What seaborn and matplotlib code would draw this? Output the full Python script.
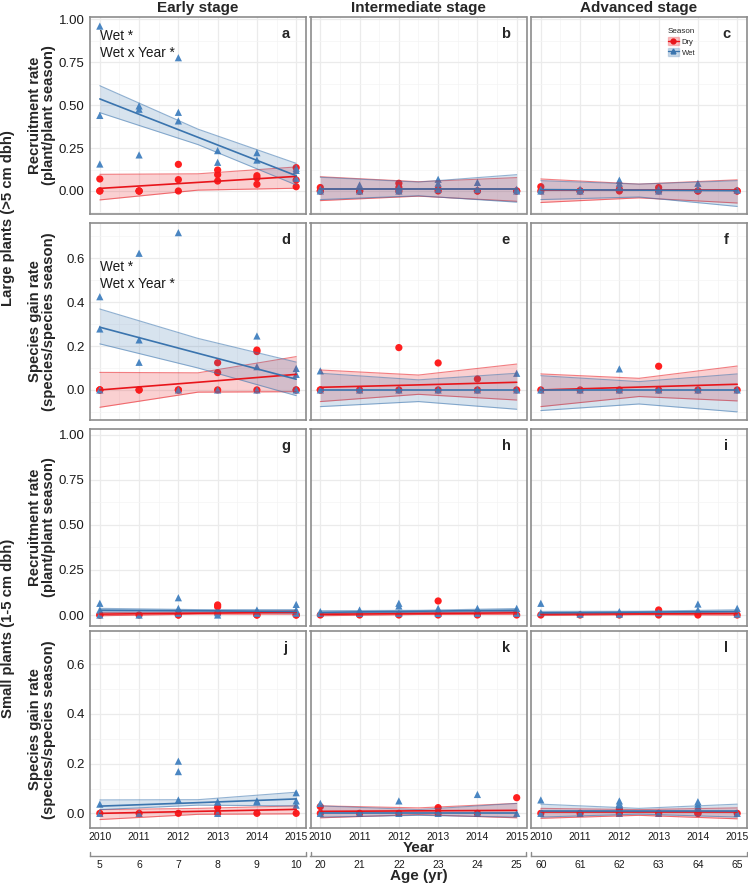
import pandas as pd
import matplotlib
matplotlib.use("Agg")
import matplotlib.pyplot as plt
import seaborn as sns
from matplotlib.lines import Line2D
from matplotlib.patches import Patch

sns.set_theme(style="whitegrid")
plt.rcParams['font.family'] = ['Liberation Sans', 'DejaVu Sans']

# ---------------- data ----------------
years = [2010, 2011, 2012, 2013, 2014, 2015]
fit_years = [2010, 2012.5, 2015]
stages = ["Early stage", "Intermediate stage", "Advanced stage"]
ages = [[5, 6, 7, 8, 9, 10], [20, 21, 22, 23, 24, 25], [60, 61, 62, 63, 64, 65]]
row_labels = ["Recruitment rate\n(plant/plant season)",
              "Species gain rate\n(species/species season)",
              "Recruitment rate\n(plant/plant season)",
              "Species gain rate\n(species/species season)"]
group_labels = ["Large plants (>5 cm dbh)", "Small plants (1-5 cm dbh)"]
letters = list("abcdefghijkl")

# observed rates, one list per year (2010..2015)
a_dry = [[0.07, 0, 0], [0, 0, 0], [0.155, 0.066, 0], [0.122, 0.095, 0.058], [0.089, 0.076, 0.039], [0.136, 0.064, 0.025]]
a_wet = [[0.96, 0.44, 0.157], [0.495, 0.476, 0.21], [0.776, 0.458, 0.408], [0.235, 0.167], [0.223, 0.18], [0.132, 0.12, 0.074]]
b_dry = [[0.02, 0, 0], [0, 0, 0], [0.045, 0.02, 0], [0.01, 0], [0, 0], [0, 0]]
b_wet = [[0.01, 0], [0.035, 0], [0.02, 0.01, 0], [0.068, 0.045, 0.01], [0.05, 0.01], [0.01, 0]]
c_dry = [[0.025, 0], [0, 0], [0.01, 0], [0.02, 0], [0, 0], [0, 0]]
c_wet = [[0.01, 0], [0.01, 0], [0.063, 0.045, 0.02], [0.01, 0], [0.045, 0.01], [0.005]]
d_dry = [[0, 0, 0], [0, 0], [0, 0], [0.124, 0.079, 0], [0.182, 0.175, 0], [0, 0]]
d_wet = [[0.425, 0.278, 0], [0.623, 0.228, 0.126], [0.717, 0], [0], [0.246, 0.106, 0], [0.098, 0.071, 0]]
e_dry = [[0, 0], [0], [0.193, 0], [0.123, 0], [0.05, 0], [0]]
e_wet = [[0.087, 0], [0], [0], [0], [0], [0.076, 0]]
f_dry = [[0], [0], [0], [0.108, 0], [0], [0]]
f_wet = [[0], [0], [0.096, 0], [0], [0], [0]]
g_dry = [[0, 0], [0], [0, 0], [0.056, 0.046, 0.01], [0, 0], [0, 0]]
g_wet = [[0.065, 0.028, 0.0], [0], [0.096, 0.037, 0.01], [0.013, 0.0], [0.028, 0.01], [0.059, 0.028, 0.01]]
h_dry = [[0], [0], [0], [0.078, 0], [0], [0]]
h_wet = [[0.019, 0.01], [0.028, 0.01], [0.065, 0.05, 0.01], [0.037, 0.009], [0.037, 0.01], [0.037, 0.01]]
i_dry = [[0], [0], [0], [0.028, 0], [0], [0]]
i_wet = [[0.065, 0.013], [0.005], [0.019, 0.005], [0.013], [0.061, 0.028], [0.037, 0.005]]
j_dry = [[0], [0], [0], [0.024, 0], [0], [0]]
j_wet = [[0.037, 0], [0], [0.21, 0.168, 0.054], [0.047, 0], [0.05, 0.047], [0.083, 0.05, 0.033]]
k_dry = [[0.027, 0], [0], [0], [0.023, 0], [0], [0.063]]
k_wet = [[0.04, 0], [0], [0.05, 0], [0], [0.076, 0], [0]]
l_dry = [[0], [0], [0.017, 0], [0], [0, 0], [0]]
l_wet = [[0.054, 0], [0], [0.05, 0.04, 0.033, 0], [0], [0.047, 0.037, 0.027], [0]]

# fitted trend (fit, lower, upper) at 2010, 2012.5, 2015
a_dry_fit = [(0.015, -0.052, 0.097), (0.05, 0.005, 0.1), (0.085, 0.016, 0.14)]
a_wet_fit = [(0.536, 0.456, 0.613), (0.3125, 0.27, 0.36), (0.089, 0.035, 0.161)]
b_dry_fit = [(0.01, -0.056, 0.083), (0.01, -0.03, 0.054), (0.01, -0.06, 0.078)]
b_wet_fit = [(0.012, -0.05, 0.08), (0.012, -0.028, 0.052), (0.012, -0.065, 0.095)]
c_dry_fit = [(0.003, -0.067, 0.07), (0.003, -0.04, 0.04), (0.003, -0.07, 0.065)]
c_wet_fit = [(0.008, -0.05, 0.06), (0.005, -0.035, 0.04), (0.002, -0.09, 0.06)]
d_dry_fit = [(0.0, -0.079, 0.08), (0.035, -0.01, 0.078), (0.071, -0.008, 0.152)]
d_wet_fit = [(0.286, 0.21, 0.369), (0.167, 0.10, 0.235), (0.049, -0.026, 0.127)]
e_dry_fit = [(0.012, -0.053, 0.091), (0.023, -0.02, 0.068), (0.035, -0.046, 0.118)]
e_wet_fit = [(0.0, -0.076, 0.076), (0.0, -0.053, 0.046), (0.0, -0.088, 0.076)]
f_dry_fit = [(0.0, -0.076, 0.073), (0.013, -0.03, 0.053), (0.026, -0.05, 0.109)]
f_wet_fit = [(0.0, -0.094, 0.065), (0.0, -0.064, 0.038), (0.0, -0.1, 0.073)]
g_dry_fit = [(0.005, -0.004, 0.014), (0.01, 0.005, 0.015), (0.015, 0.005, 0.025)]
g_wet_fit = [(0.027, 0.017, 0.037), (0.024, 0.018, 0.03), (0.02, 0.01, 0.03)]
h_dry_fit = [(0.004, -0.004, 0.012), (0.008, 0.003, 0.013), (0.012, 0.004, 0.02)]
h_wet_fit = [(0.015, 0.007, 0.024), (0.021, 0.016, 0.026), (0.027, 0.018, 0.036)]
i_dry_fit = [(0.005, -0.003, 0.013), (0.006, 0.002, 0.01), (0.008, 0.0, 0.016)]
i_wet_fit = [(0.012, 0.004, 0.02), (0.016, 0.011, 0.021), (0.02, 0.011, 0.029)]
j_dry_fit = [(0.0, -0.025, 0.015), (0.008, -0.004, 0.02), (0.016, -0.002, 0.03)]
j_wet_fit = [(0.029, 0.015, 0.054), (0.043, 0.033, 0.055), (0.058, 0.03, 0.085)]
k_dry_fit = [(0.008, -0.018, 0.03), (0.01, -0.005, 0.022), (0.012, -0.018, 0.04)]
k_wet_fit = [(0.002, -0.015, 0.03), (0.002, -0.008, 0.015), (0.002, -0.015, 0.04)]
l_dry_fit = [(0.005, -0.02, 0.02), (0.005, -0.008, 0.015), (0.005, -0.022, 0.022)]
l_wet_fit = [(0.008, -0.015, 0.037), (0.008, -0.003, 0.02), (0.008, -0.015, 0.037)]

dry_points = [a_dry, b_dry, c_dry, d_dry, e_dry, f_dry, g_dry, h_dry, i_dry, j_dry, k_dry, l_dry]
wet_points = [a_wet, b_wet, c_wet, d_wet, e_wet, f_wet, g_wet, h_wet, i_wet, j_wet, k_wet, l_wet]
dry_fits = [a_dry_fit, b_dry_fit, c_dry_fit, d_dry_fit, e_dry_fit, f_dry_fit,
            g_dry_fit, h_dry_fit, i_dry_fit, j_dry_fit, k_dry_fit, l_dry_fit]
wet_fits = [a_wet_fit, b_wet_fit, c_wet_fit, d_wet_fit, e_wet_fit, f_wet_fit,
            g_wet_fit, h_wet_fit, i_wet_fit, j_wet_fit, k_wet_fit, l_wet_fit]

# long tables
pt_rows, fit_rows = [], []
for idx, letter in enumerate(letters):
    for season, pts, fit in (("Dry", dry_points[idx], dry_fits[idx]),
                             ("Wet", wet_points[idx], wet_fits[idx])):
        for yr, vals in zip(years, pts):
            for v in vals:
                pt_rows.append((letter, season, yr, v))
        for yr, (m, lo, hi) in zip(fit_years, fit):
            fit_rows.append((letter, season, yr, m, lo, hi))
pts_df = pd.DataFrame(pt_rows, columns=["Panel", "Season", "Year", "Rate"])
fit_df = pd.DataFrame(fit_rows, columns=["Panel", "Season", "Year", "Fit", "Lo", "Hi"])

# ---------------- styling ----------------
point_pal = {"Dry": "#FF1F1F", "Wet": "#4A86C2"}
line_pal = {"Dry": "#E8151B", "Wet": "#3A74AE"}
markers = {"Dry": "o", "Wet": "^"}
border = "#8C8C8C"

W, H = 748, 885
fig = plt.figure(figsize=(W / 100, H / 100), dpi=100)

col_left = [90, 310.5, 531]
col_w = 216
row_top = [17, 223, 429, 631]
row_h = 197
ylims = [(-0.134, 1.013), (-0.137, 0.761), (-0.061, 1.033), (-0.059, 0.734)]
yticks = [[0, 0.25, 0.5, 0.75, 1.0], [0, 0.2, 0.4, 0.6], [0, 0.25, 0.5, 0.75, 1.0], [0, 0.2, 0.4, 0.6]]
yminor = [[-0.125, 0.125, 0.375, 0.625, 0.875], [-0.1, 0.1, 0.3, 0.5, 0.7],
          [0.125, 0.375, 0.625, 0.875], [0.1, 0.3, 0.5, 0.7]]
yfmt = ["{:.2f}", "{:.1f}", "{:.2f}", "{:.1f}"]

axes = {}
for r in range(4):
    for c in range(3):
        idx = r * 3 + c
        letter = letters[idx]
        ax = fig.add_axes([col_left[c] / W, 1 - (row_top[r] + row_h) / H, col_w / W, row_h / H])
        axes[letter] = ax
        ax.set_facecolor("white")

        sub = pts_df[pts_df["Panel"] == letter]
        sns.scatterplot(data=sub, x="Year", y="Rate", hue="Season", style="Season",
                        markers=markers, palette=point_pal, s=27, linewidth=0,
                        legend=False, ax=ax, zorder=2)
        fsub = fit_df[fit_df["Panel"] == letter]
        for season in ["Dry", "Wet"]:
            fs = fsub[fsub["Season"] == season]
            ax.fill_between(fs["Year"], fs["Lo"], fs["Hi"], color=line_pal[season],
                            alpha=0.2, lw=0, zorder=3)
            ax.plot(fs["Year"], fs["Lo"], color=line_pal[season], alpha=0.55, lw=0.8, zorder=3)
            ax.plot(fs["Year"], fs["Hi"], color=line_pal[season], alpha=0.55, lw=0.8, zorder=3)
        sns.lineplot(data=fsub, x="Year", y="Fit", hue="Season", palette=line_pal,
                     lw=1.2, legend=False, ax=ax, zorder=4)

        ax.set_xlim(2009.75, 2015.25)
        ax.set_ylim(*ylims[r])
        ax.set_xticks(years)
        ax.set_xticks([y + 0.5 for y in years[:-1]], minor=True)
        ax.set_yticks(yticks[r])
        ax.set_yticks(yminor[r], minor=True)
        ax.grid(True, which="major", color="#EBEBEB", lw=0.9)
        ax.grid(True, which="minor", color="#F4F4F4", lw=0.5)
        ax.set_axisbelow(True)
        ax.set_xlabel("")
        ax.set_ylabel("")
        for sp in ax.spines.values():
            sp.set_color(border)
            sp.set_linewidth(1.2)
            sp.set_zorder(6)
        ax.tick_params(which="minor", length=0)
        ax.tick_params(which="major", length=2.5, width=0.8, color="#555555",
                       labelcolor="#1A1A1A", pad=1.5)
        if c == 0:
            ax.set_yticklabels([yfmt[r].format(t) for t in yticks[r]], fontsize=9.5)
        else:
            ax.tick_params(axis="y", left=False, labelleft=False)
        if r == 3:
            ax.set_xticklabels([str(y) for y in years], fontsize=7.5)
            ax.tick_params(axis="x", pad=0.5)
            # secondary age axis
            off = years[0] - ages[c][0]
            sec = ax.secondary_xaxis(-0.142, functions=(lambda x, o=off: x - o, lambda a, o=off: a + o))
            sec.set_xticks(ages[c])
            sec.set_xticklabels([str(a) for a in ages[c]], fontsize=7.5)
            sec.tick_params(length=0, pad=3, labelcolor="#1A1A1A")
            sec.spines["bottom"].set_color(border)
            sec.spines["bottom"].set_linewidth(1.0)
            ax.plot([0.002, 0.002], [-0.142, -0.12], transform=ax.transAxes, color=border,
                    lw=1.0, clip_on=False)
            ax.plot([0.998, 0.998], [-0.142, -0.12], transform=ax.transAxes, color=border,
                    lw=1.0, clip_on=False)
        else:
            ax.tick_params(axis="x", bottom=False, labelbottom=False)

        ax.text(0.905, 0.915, letter, transform=ax.transAxes, fontsize=10.5,
                fontweight="bold", ha="center", va="center", zorder=7)

# significance notes
for letter, ys in (("a", (0.903, 0.804)), ("d", (0.56, 0.483))):
    axes[letter].text(2010, ys[0], "Wet *", fontsize=9.8, ha="left", va="center", color="#1A1A1A")
    axes[letter].text(2010, ys[1], "Wet x Year *", fontsize=9.8, ha="left", va="center", color="#1A1A1A")

# legend in panel c
handles = [(Patch(facecolor=line_pal[s], alpha=0.25, edgecolor=line_pal[s]),
            Line2D([], [], color=line_pal[s], marker=markers[s], markersize=3.5, lw=1.0))
           for s in ["Dry", "Wet"]]
leg = axes["c"].legend(handles, ["Dry", "Wet"], title="Season", loc="upper left",
                       bbox_to_anchor=(0.61, 0.97), frameon=False, fontsize=5.5,
                       title_fontsize=5.8, handlelength=1.4, handleheight=1.3,
                       labelspacing=0.25, borderpad=0.2, handletextpad=0.4,
                       alignment="left")
leg.set_zorder(8)

# column titles
for c, name in enumerate(stages):
    fig.text((col_left[c] + col_w / 2) / W, 1 - 8 / H, name, fontsize=11,
             fontweight="bold", ha="center", va="center")

# row labels
for r, lab in enumerate(row_labels):
    fig.text(42 / W, 1 - (row_top[r] + row_h / 2) / H, lab, rotation=90, fontsize=10.7,
             fontweight="bold", ha="center", va="center", linespacing=0.95)
fig.text(8.5 / W, 1 - ((row_top[0] + row_top[1] + row_h) / 2) / H, group_labels[0],
         rotation=90, fontsize=10.7, fontweight="bold", ha="center", va="center")
fig.text(8.5 / W, 1 - ((row_top[2] + row_top[3] + row_h) / 2) / H, group_labels[1],
         rotation=90, fontsize=10.7, fontweight="bold", ha="center", va="center")

# x axis titles
fig.text(418.5 / W, 1 - 848.5 / H, "Year", fontsize=11, fontweight="bold", ha="center", va="center")
fig.text(418.5 / W, 1 - 876 / H, "Age (yr)", fontsize=11, fontweight="bold", ha="center", va="center")

fig.savefig("out.png", dpi=100, facecolor="white")
